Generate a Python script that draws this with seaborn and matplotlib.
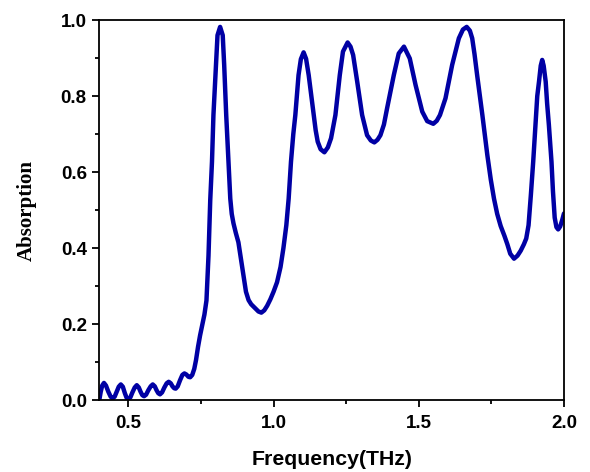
import matplotlib
matplotlib.use("Agg")
import matplotlib.pyplot as plt
import seaborn as sns
import numpy as np
import pandas as pd
from matplotlib.ticker import MultipleLocator
from matplotlib.font_manager import FontProperties

freq = [0.400, 0.405, 0.410, 0.416, 0.423, 0.431, 0.439, 0.446, 0.453, 0.460,
        0.467, 0.474, 0.481, 0.488, 0.494, 0.500, 0.507, 0.514, 0.522, 0.529,
        0.536, 0.542, 0.548, 0.554, 0.561, 0.569, 0.577, 0.584, 0.591, 0.597,
        0.603, 0.609, 0.616, 0.624, 0.632, 0.639, 0.646, 0.652, 0.658, 0.663,
        0.670, 0.678, 0.686, 0.693, 0.700, 0.707, 0.713, 0.720, 0.727, 0.733,
        0.740, 0.747, 0.755, 0.762, 0.769, 0.776, 0.782, 0.788, 0.793, 0.802,
        0.807, 0.816, 0.825, 0.830, 0.837, 0.845, 0.851, 0.856, 0.862, 0.870,
        0.879, 0.888, 0.897, 0.905, 0.914, 0.923, 0.935, 0.948, 0.958, 0.968,
        0.978, 0.989, 1.000, 1.012, 1.024, 1.034, 1.044, 1.052, 1.060, 1.068,
        1.075, 1.086, 1.094, 1.1035, 1.112, 1.121, 1.130, 1.138, 1.145, 1.152,
        1.162, 1.175, 1.187, 1.198, 1.213, 1.228, 1.239, 1.255, 1.265, 1.274,
        1.288, 1.305, 1.322, 1.335, 1.347, 1.358, 1.368, 1.380, 1.391, 1.414,
        1.431, 1.449, 1.469, 1.489, 1.512, 1.529, 1.550, 1.562, 1.573, 1.592,
        1.615, 1.638, 1.652, 1.665, 1.676, 1.684, 1.692, 1.701, 1.719, 1.736,
        1.748, 1.759, 1.770, 1.782, 1.795, 1.805, 1.815, 1.828, 1.840, 1.851,
        1.862, 1.870, 1.878, 1.886, 1.894, 1.902, 1.908, 1.914, 1.920, 1.925,
        1.930, 1.937, 1.942, 1.948, 1.957, 1.962, 1.968, 1.974, 1.980, 1.987,
        1.994, 2.000]
absorption = [0.000, 0.022, 0.038, 0.045, 0.038, 0.022, 0.009, 0.004, 0.009, 0.022,
              0.035, 0.041, 0.035, 0.018, 0.006, 0.002, 0.007, 0.020, 0.033, 0.039,
              0.033, 0.022, 0.013, 0.010, 0.014, 0.026, 0.036, 0.041, 0.036, 0.026,
              0.018, 0.015, 0.020, 0.033, 0.044, 0.048, 0.044, 0.036, 0.031, 0.030,
              0.036, 0.052, 0.066, 0.070, 0.067, 0.061, 0.060, 0.066, 0.082, 0.105,
              0.140, 0.170, 0.200, 0.225, 0.262, 0.380, 0.526, 0.627, 0.750, 0.882,
              0.960, 0.982, 0.960, 0.882, 0.750, 0.627, 0.530, 0.490, 0.465, 0.440,
              0.415, 0.370, 0.325, 0.285, 0.263, 0.252, 0.243, 0.233, 0.230, 0.236,
              0.248, 0.265, 0.285, 0.310, 0.350, 0.400, 0.460, 0.530, 0.627, 0.700,
              0.750, 0.855, 0.897, 0.915, 0.898, 0.855, 0.800, 0.750, 0.710, 0.680,
              0.660, 0.652, 0.665, 0.689, 0.750, 0.855, 0.917, 0.941, 0.930, 0.908,
              0.838, 0.750, 0.697, 0.683, 0.678, 0.685, 0.697, 0.725, 0.768, 0.855,
              0.912, 0.930, 0.899, 0.829, 0.759, 0.734, 0.727, 0.735, 0.750, 0.794,
              0.882, 0.952, 0.975, 0.982, 0.972, 0.952, 0.910, 0.855, 0.750, 0.645,
              0.580, 0.530, 0.490, 0.458, 0.432, 0.410, 0.385, 0.372, 0.380, 0.393,
              0.410, 0.425, 0.460, 0.540, 0.627, 0.724, 0.800, 0.838, 0.880, 0.895,
              0.880, 0.838, 0.780, 0.724, 0.627, 0.550, 0.480, 0.455, 0.449, 0.457,
              0.474, 0.491]

xticks = [0.5, 1.0, 1.5, 2.0]
yticks = [0.0, 0.2, 0.4, 0.6, 0.8, 1.0]

df = pd.DataFrame({"Frequency": freq, "Absorption": absorption})

sns.set_theme(style="ticks")
plt.rcParams['font.family'] = ['Liberation Sans', 'DejaVu Sans']
plt.rcParams['text.color'] = 'black'
plt.rcParams['axes.labelcolor'] = 'black'

fig = plt.figure(figsize=(5.9, 4.72), dpi=100)
ax = fig.add_axes([0.1683, 0.1525, 0.7876, 0.805])

sns.lineplot(data=df, x="Frequency", y="Absorption", ax=ax, color="#0000A4",
             linewidth=3.2, sort=False, estimator=None)
ax.lines[0].set_solid_joinstyle("round")
ax.lines[0].set_solid_capstyle("round")

ax.set_xlim(0.4, 2.0)
ax.set_ylim(0.0, 1.0)
ax.set_xticks(xticks)
ax.set_yticks(yticks)
ax.set_xticklabels([f"{v:.1f}" for v in xticks])
ax.set_yticklabels([f"{v:.1f}" for v in yticks])
ax.xaxis.set_minor_locator(MultipleLocator(0.25))
ax.yaxis.set_minor_locator(MultipleLocator(0.1))

for s in ax.spines.values():
    s.set_visible(True)
    s.set_linewidth(1.3)
    s.set_color("black")

ax.tick_params(axis="both", which="major", direction="out", length=5, width=1.3,
               labelsize=13.5, pad=4, colors="black")
ax.tick_params(axis="both", which="minor", direction="out", length=3, width=1.3,
               colors="black")
ax.tick_params(axis="x", which="major", pad=6)
for lab in ax.get_xticklabels() + ax.get_yticklabels():
    lab.set_fontweight("bold")

xfont = FontProperties(family=["Liberation Sans", "DejaVu Sans"], weight="bold", size=15.3)
yfont = FontProperties(family=["Liberation Serif", "DejaVu Serif"], weight="bold", size=15)
ax.set_xlabel("Frequency(THz)", fontproperties=xfont, color="black", labelpad=13)
ax.set_ylabel("Absorption", fontproperties=yfont, color="black", labelpad=17)

fig.savefig("out.png", dpi=100)
